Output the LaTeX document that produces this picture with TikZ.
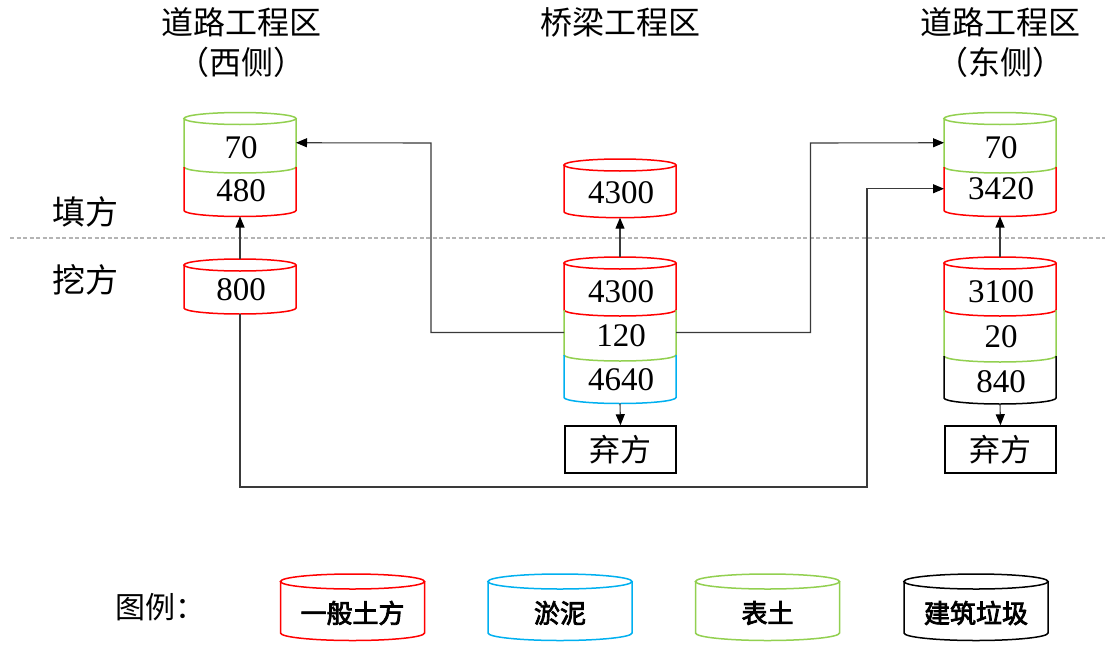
\documentclass[tikz,border=0pt]{standalone}
\usepackage{fontspec}
\setmainfont{Liberation Serif}
\newfontfamily\cjk{Noto Sans CJK SC}
\newfontfamily\cjkfb[FakeBold=3]{Noto Sans CJK SC}
\usetikzlibrary{arrows.meta,calc}
\definecolor{cred}{HTML}{FF0000}
\definecolor{cgreen}{HTML}{92D050}
\definecolor{cblue}{HTML}{00B0F0}
\definecolor{conn}{HTML}{3A3A3A}
\definecolor{dashgray}{HTML}{B4B4B4}
\newcommand\cylTop[4]{\draw[cyl,#2] (#1.north) ellipse[x radius=#3,y radius=#4];}
\newcommand\cylSeg[4]{\draw[cyl,#2] (#1.north west) -- (#1.south west) arc[start angle=180,end angle=360,x radius=#3,y radius=#4] -- (#1.north east);}
\tikzset{
  seg/.style={inner sep=0pt, outer sep=0pt, minimum width=112pt},
  lseg/.style={inner sep=0pt, outer sep=0pt, minimum width=144pt, minimum height=51.5pt},
  cyl/.style={line width=1.5pt},
  num/.style={font=\fontsize{33}{33}\selectfont, inner sep=0pt},
  cn/.style={font=\cjk\fontsize{32}{32}\selectfont, inner sep=0pt},
  side/.style={font=\cjk\fontsize{33}{33}\selectfont, inner sep=0pt},
  leg/.style={font=\cjkfb\fontsize{26}{26}\selectfont, inner sep=0pt},
  boxn/.style={draw=black, line width=1.5pt, inner sep=0pt, minimum width=111pt, minimum height=47pt, font=\cjk\fontsize{31}{31}\selectfont},
  arr/.style={draw=conn, line width=1.1pt, -{Triangle[length=11pt,width=9pt,color=black]}},
}
\begin{document}
\begin{tikzpicture}[x=1pt,y=-1pt]
\useasboundingbox[fill=white] (0,0) rectangle (1105,645);
% dashed separation line
\coordinate (dL) at (10,238);
\coordinate (dR) at (1105,238);
\draw[dashgray, line width=1.2pt, dash pattern=on 4pt off 2.5pt] (dL) -- (dR);

% titles
\node[cn] (tw1) at (241,22) {道路工程区};
\node[cn] (tw2) at (241,62) {（西侧）};
\node[cn] (tb1) at (620,22) {桥梁工程区};
\node[cn] (te1) at (1000,22) {道路工程区};
\node[cn] (te2) at (1000,62) {（东侧）};
\node[side] (tfill) at (85,212) {填方};
\node[side] (tcut) at (85,280) {挖方};

% west fill stack
\node[seg, minimum height=48.5pt] (w70) at (240,142.75) {};
\node[seg, minimum height=43.5pt] (w480) at (240,188.75) {};
\cylTop{w70}{cgreen}{56pt}{6pt}
\cylSeg{w70}{cgreen}{56pt}{6pt}
\cylSeg{w480}{cred}{56pt}{6pt}
\node[num] (n-w70) at (241,148) {70};
\node[num] (n-w480) at (241,191) {480};

% west cut
\node[seg, minimum height=43pt] (w800) at (240,286.5) {};
\cylTop{w800}{cred}{56pt}{6pt}
\cylSeg{w800}{cred}{56pt}{6pt}
\node[num] (n-w800) at (241,290) {800};

% bridge fill
\node[seg, minimum height=46.7pt] (b4300) at (620,188.35) {};
\cylTop{b4300}{cred}{56pt}{6pt}
\cylSeg{b4300}{cred}{56pt}{6pt}
\node[num] (n-b4300) at (621,192.5) {4300};

% bridge cut stack
\node[seg, minimum height=47pt] (m4300) at (620,286.5) {};
\node[seg, minimum height=45pt] (m120) at (620,332.5) {};
\node[seg, minimum height=42.5pt] (m4640) at (620,376.25) {};
\cylTop{m4300}{cred}{56pt}{6pt}
\cylSeg{m4300}{cred}{56pt}{6pt}
\cylSeg{m120}{cgreen}{56pt}{6pt}
\cylSeg{m4640}{cblue}{56pt}{6pt}
\node[num] (n-m4300) at (621,292) {4300};
\node[num] (n-m120) at (621,335.5) {120};
\node[num] (n-m4640) at (621,380) {4640};
\node[boxn] (mbox) at (620.5,449.5) {弃方};

% east fill stack
\node[seg, minimum height=48.5pt] (e70) at (1000,142.75) {};
\node[seg, minimum height=43.5pt] (e3420) at (1000,188.75) {};
\cylTop{e70}{cgreen}{56pt}{6pt}
\cylSeg{e70}{cgreen}{56pt}{6pt}
\cylSeg{e3420}{cred}{56pt}{6pt}
\node[num] (n-e70) at (1001,148) {70};
\node[num] (n-e3420) at (1001,189) {3420};

% east cut stack
\node[seg, minimum height=47pt] (e3100) at (1000,286.5) {};
\node[seg, minimum height=46pt] (e20) at (1000,333) {};
\node[seg, minimum height=42pt] (e840) at (1000,377) {};
\cylTop{e3100}{cred}{56pt}{6pt}
\cylSeg{e3100}{cred}{56pt}{6pt}
\cylSeg{e20}{cgreen}{56pt}{6pt}
\cylSeg{e840}{black}{56pt}{6pt}
\node[num] (n-e3100) at (1001,292) {3100};
\node[num] (n-e20) at (1001,337) {20};
\node[num] (n-e840) at (1001,382) {840};
\node[boxn] (ebox) at (1000.5,449.5) {弃方};

% connectors
\coordinate (turnA) at (867,487);
\coordinate (turnB) at (431,143);
\coordinate (turnC) at (810.5,143);
\draw[arr] ([yshift=6pt]w800.north) -- ([yshift=-6pt]w480.south);
\draw[arr] ([yshift=6pt]m4300.north) -- ([yshift=-6pt]b4300.south);
\draw[arr] ([yshift=6pt]e3100.north) -- ([yshift=-6pt]e3420.south);
\draw[arr] ([yshift=-6pt]m4640.south) -- (mbox.north);
\draw[arr] ([yshift=-6pt]e840.south) -- (ebox.north);
\draw[arr] (m120.west) -| (turnB) -- (w70.east);
\draw[arr] (m120.east) -| (turnC) -- (e70.west);
\draw[arr] ([yshift=-6pt]w800.south) |- (turnA) |- (e3420.west);

% legend
\node[cn, font=\cjk\fontsize{30}{30}\selectfont] (tleg) at (160,607) {图例：};
\node[lseg] (l1) at (352.5,607.25) {};
\node[lseg] (l2) at (560,607.25) {};
\node[lseg] (l3) at (767.5,607.25) {};
\node[lseg] (l4) at (976,607.25) {};
\cylTop{l1}{cred}{72pt}{7.5pt}
\cylSeg{l1}{cred}{72pt}{7.5pt}
\cylTop{l2}{cblue}{72pt}{7.5pt}
\cylSeg{l2}{cblue}{72pt}{7.5pt}
\cylTop{l3}{cgreen}{72pt}{7.5pt}
\cylSeg{l3}{cgreen}{72pt}{7.5pt}
\cylTop{l4}{black}{72pt}{7.5pt}
\cylSeg{l4}{black}{72pt}{7.5pt}
\node[leg] (tl1) at (352.5,613) {一般土方};
\node[leg] (tl2) at (560,613) {淤泥};
\node[leg] (tl3) at (767.5,613) {表土};
\node[leg] (tl4) at (976,613) {建筑垃圾};
\end{tikzpicture}
\end{document}
